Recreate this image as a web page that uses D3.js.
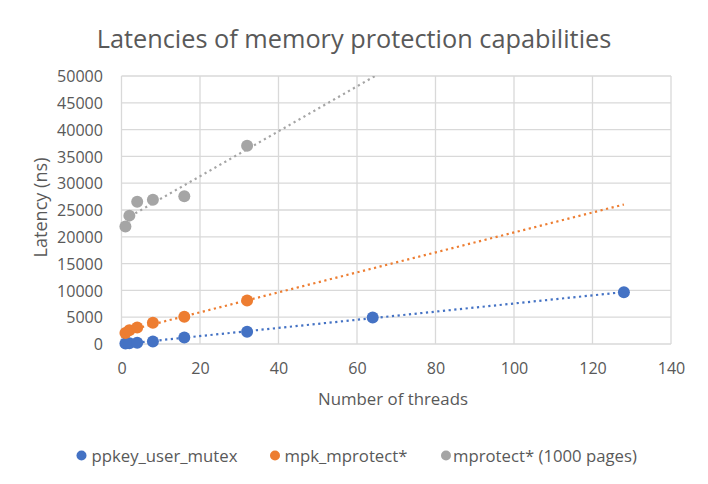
<!DOCTYPE html>
<html><head><meta charset="utf-8">
<script src="https://cdn.jsdelivr.net/npm/d3@7"></script>
<style>body{margin:0;background:#fff}svg{display:block}text{font-family:"Open Sans",sans-serif;fill:#595959}</style>
</head><body><svg id="c" width="708" height="484"></svg>
<script>
const threads = [1, 2, 4, 8, 16, 32, 64, 128];
const ppkeyUserMutex = [100, 150, 250, 450, 1200, 2300, 4950, 9650];
const mpkMprotect = [2050, 2550, 3100, 3950, 5100, 8100];
const mprotect1000 = [21900, 23950, 26560, 26900, 27550, 36980];
const xTicks = [0, 20, 40, 60, 80, 100, 120, 140];
const yTicks = [0, 5000, 10000, 15000, 20000, 25000, 30000, 35000, 40000, 45000, 50000];
const seriesNames = ["ppkey_user_mutex", "mpk_mprotect*", "mprotect* (1000 pages)"];
const colors = ["#4472C4", "#ED7D31", "#A5A5A5"];
const trendEnd = 128;

const series = [ppkeyUserMutex, mpkMprotect, mprotect1000].map((vals, i) => ({
  name: seriesNames[i], color: colors[i],
  pts: vals.map((v, j) => ({x: threads[j], y: v}))
}));

const svg = d3.select("#c");
const L = 121.5, R = 671, T = 76, B = 344;
const x = d3.scaleLinear().domain([0, 140]).range([L, R]);
const y = d3.scaleLinear().domain([0, 50000]).range([B, T]);

// size a font so that a text node reaches a target width
function fitSize(node, target) {
  node.style.fontSize = "16px";
  const w = node.getComputedTextLength();
  return 16 * target / w;
}

const title = svg.append("text").attr("x", 354).attr("y", 48).attr("text-anchor", "middle")
  .text("Latencies of memory protection capabilities");
title.style("font-size", fitSize(title.node(), 515) + "px");

const grid = svg.append("g");
grid.selectAll(".h").data(yTicks).join("line")
  .attr("x1", L).attr("x2", R).attr("y1", d => y(d)).attr("y2", d => y(d))
  .attr("stroke", "#d9d9d9").attr("stroke-width", 1.3);
grid.selectAll(".v").data(xTicks).join("line")
  .attr("y1", T).attr("y2", B).attr("x1", d => x(d)).attr("x2", d => x(d))
  .attr("stroke", "#d9d9d9").attr("stroke-width", 1.3);

const yAxis = svg.append("g").attr("transform", `translate(${L},0)`)
  .call(d3.axisLeft(y).tickValues(yTicks).tickSize(0).tickPadding(18.5).tickFormat(d3.format("d")));
yAxis.select(".domain").remove();
const topLbl = yAxis.selectAll("text").filter(d => d === 50000).node();
const tickSize = fitSize(topLbl, 46);
yAxis.selectAll("text").style("font-size", tickSize + "px").attr("fill", "#595959").attr("dy", "0.36em");

const xAxis = svg.append("g").attr("transform", `translate(0,${B})`)
  .call(d3.axisBottom(x).tickValues(xTicks).tickSize(0).tickPadding(0));
xAxis.select(".domain").remove();
xAxis.selectAll("text").style("font-size", tickSize + "px").attr("fill", "#595959")
  .attr("y", 30).attr("dy", 0);

const xt = svg.append("text").attr("x", 393).attr("y", 405).attr("text-anchor", "middle")
  .text("Number of threads");
xt.style("font-size", fitSize(xt.node(), 150) + "px");
const yt = svg.append("text").attr("transform", "translate(47,207.5) rotate(-90)").attr("text-anchor", "middle")
  .text("Latency (ns)");
yt.style("font-size", fitSize(yt.node(), 100) + "px");

svg.append("defs").append("clipPath").attr("id", "clip").append("rect")
  .attr("x", L).attr("y", T).attr("width", R - L).attr("height", B - T);

// linear trendlines (least squares) from the data
series.forEach(s => {
  const mx = d3.mean(s.pts, d => d.x), my = d3.mean(s.pts, d => d.y);
  const sxy = d3.sum(s.pts, d => (d.x - mx) * (d.y - my));
  const sxx = d3.sum(s.pts, d => (d.x - mx) ** 2);
  const m = sxy / sxx, b = my - m * mx;
  const x0 = s.pts[0].x;
  svg.append("line").attr("clip-path", "url(#clip)")
    .attr("x1", x(x0)).attr("y1", y(m * x0 + b))
    .attr("x2", x(trendEnd)).attr("y2", y(m * trendEnd + b))
    .attr("stroke", s.color).attr("stroke-width", 2.2)
    .attr("stroke-dasharray", "2.2,3.5");
});

series.forEach(s => {
  svg.append("g").selectAll("circle").data(s.pts).join("circle")
    .attr("cx", d => x(d.x)).attr("cy", d => y(d.y)).attr("r", 6)
    .attr("fill", s.color);
});

const legMarkX = [81.5, 275, 446];
const legTextX = [91.5, 284.5, 453];
let legSize = null;
series.forEach((s, i) => {
  svg.append("circle").attr("cx", legMarkX[i]).attr("cy", 455.5).attr("r", 5).attr("fill", s.color);
  const t = svg.append("text").attr("x", legTextX[i]).attr("y", 461.5).text(s.name);
  if (legSize === null) legSize = fitSize(t.node(), 146);
  t.style("font-size", legSize + "px");
});
</script></body></html>
